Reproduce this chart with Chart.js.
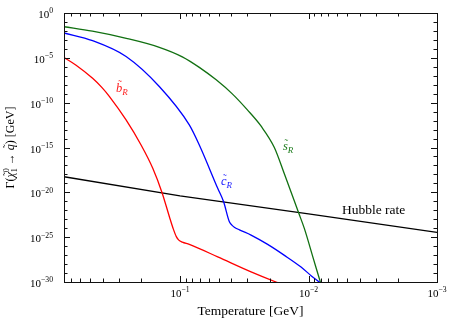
<!DOCTYPE html>
<html lang="en">
<head>
<meta charset="UTF-8">
<title>Squark decay rate vs temperature</title>
<style>
  body { margin: 0; background: #fff; }
  #wrap { width: 458px; height: 322px; }
</style>
</head>
<body>
<div id="wrap"><canvas id="rateChart" width="458" height="322"></canvas></div>
<script src="https://cdn.jsdelivr.net/npm/chart.js"></script>
<script>
// temperature in GeV, rate in GeV
const tempB = [0.8, 0.644, 0.479, 0.403, 0.354, 0.263, 0.201, 0.163, 0.138, 0.121, 0.1127, 0.1069, 0.1022, 0.096, 0.0847, 0.0509, 0.028, 0.0179, 0.0157];
const rateB = [1.1e-5, 1.5e-6, 5.2e-8, 4.5e-9, 4.8e-10, 1.2e-12, 1.9e-15, 4.8e-18, 9.1e-21, 1.9e-23, 7.9e-25, 1.15e-25, 4.7e-26, 2.8e-26, 1.55e-26, 6.3e-28, 1.35e-29, 1.0e-30, 5e-31];

const tempC = [0.8, 0.479, 0.263, 0.145, 0.0847, 0.0708, 0.0509, 0.0458, 0.0413, 0.0395, 0.0378, 0.0345, 0.028, 0.0208, 0.0154, 0.01143, 0.0095, 0.00824, 0.00767];
const rateC = [5.9e-3, 8.1e-4, 1.4e-5, 6.3e-9, 3.3e-13, 1.9e-15, 2.8e-20, 8.9e-22, 5.2e-24, 2.2e-24, 1.3e-24, 6.6e-25, 1.7e-25, 1.55e-26, 9.3e-28, 4.6e-29, 4.8e-30, 1.0e-30, 4.4e-31];

const tempS = [0.8, 0.481, 0.262, 0.145, 0.096, 0.0708, 0.0523, 0.0392, 0.0299, 0.0233, 0.01845, 0.0154, 0.01194, 0.01078, 0.00912, 0.00809, 0.00752];
const rateS = [2.95e-2, 9.3e-3, 1.5e-3, 1.5e-4, 1.3e-5, 8.7e-7, 3.5e-8, 9.5e-10, 1.55e-11, 2.2e-13, 1.0e-15, 1.1e-18, 5.2e-23, 9.5e-25, 3.1e-28, 1.0e-30, 3.2e-32];

const tempH = [0.8, 0.1, 0.01, 0.001];
const rateH = [5.5e-19, 4.0e-21, 4.0e-23, 3.5e-25];

// tick labels (powers of ten)
const xTickExps = [-1, -2, -3];
const yTickExps = [0, -5, -10, -15, -20, -25, -30];

const SERIF = '"Liberation Serif", "DejaVu Serif", serif';

function pts(xs, ys) {
    return xs.map((t, i) => ({ x: t, y: ys[i] }));
}

function fontOf(r) {
    return (r.it ? 'italic ' : '') + r.size + 'px ' + SERIF;
}

function runsWidth(ctx, runs) {
    let w = 0;
    for (const r of runs) {
        ctx.font = fontOf(r);
        r.w = ctx.measureText(r.t).width;
        if (r.sub) r.w = Math.max(r.w, ctx.measureText(r.sub).width);
        w += r.w;
    }
    return w;
}

// draws text pieces one after another (sub/superscripts, tildes)
function drawRuns(ctx, runs, x, y) {
    runsWidth(ctx, runs);
    let cx = x;
    ctx.textAlign = 'left';
    ctx.textBaseline = 'alphabetic';
    for (const r of runs) {
        ctx.font = fontOf(r);
        ctx.fillText(r.t, cx, y + (r.dy || 0));
        if (r.sub) ctx.fillText(r.sub, cx, y + r.subDy);
        if (r.tilde) {
            ctx.font = (r.size * 0.9) + 'px ' + SERIF;
            ctx.textAlign = 'center';
            ctx.fillText('\u02DC', cx + r.w / 2 + (r.it ? 1 : 0), y + r.tilde);
            ctx.textAlign = 'left';
        }
        cx += r.w;
    }
}

function powRuns(exp, size) {
    return [
        { t: '10', size: size },
        { t: exp === 0 ? '0' : '\u2212' + Math.abs(exp), size: size * 0.7, dy: -size * 0.42 }
    ];
}

const decor = {
    id: 'decor',
    afterDraw(chart) {
        const { ctx, chartArea: a, scales: { x, y } } = chart;
        ctx.save();
        ctx.strokeStyle = '#111';
        ctx.lineWidth = 1;
        const seg = (x1, y1, x2, y2) => {
            ctx.beginPath(); ctx.moveTo(x1, y1); ctx.lineTo(x2, y2); ctx.stroke();
        };

        // y ticks, one per decade, longer every 5
        for (let e = 0; e >= -30; e--) {
            const py = Math.round(y.getPixelForValue(Math.pow(10, e))) + 0.5;
            const len = e % 5 === 0 ? 6 : 3.5;
            seg(a.left, py, a.left + len, py);
            seg(a.right, py, a.right - len, py);
        }
        // x ticks
        for (let e = 0; e >= -3; e--) {
            for (let k = 1; k <= 9; k++) {
                const v = k * Math.pow(10, e);
                if (v > 0.8 || v < 0.001) continue;
                const px = Math.round(x.getPixelForValue(v)) + 0.5;
                const len = k === 1 ? 6 : 3.5;
                seg(px, a.bottom, px, a.bottom - len);
                seg(px, a.top, px, a.top + len);
            }
        }
        // frame
        ctx.strokeRect(Math.round(a.left) + 0.5, Math.round(a.top) + 0.5,
            Math.round(a.right - a.left), Math.round(a.bottom - a.top));

        ctx.fillStyle = '#000';
        // y tick labels
        yTickExps.forEach(e => {
            const runs = powRuns(e, 11);
            const w = runsWidth(ctx, runs);
            const py = y.getPixelForValue(Math.pow(10, e));
            drawRuns(ctx, runs, 53 - w, py + 5);
        });
        // x tick labels
        xTickExps.forEach(e => {
            const runs = powRuns(e, 11);
            const w = runsWidth(ctx, runs);
            const px = x.getPixelForValue(Math.pow(10, e));
            drawRuns(ctx, runs, px - w / 2, a.bottom + 15);
        });

        // axis titles
        ctx.font = '13.5px ' + SERIF;
        ctx.textAlign = 'center';
        ctx.fillText('Temperature [GeV]', (a.left + a.right) / 2, 315);

        const yTitle = [
            { t: '\u0393(', size: 12 },
            { t: '\u03C7', size: 12, it: true, tilde: -2.8 },
            { t: '0', size: 8, dy: -5, sub: '1', subDy: 3 },
            { t: ' \u2192 ', size: 12 },
            { t: 'q', size: 12, it: true, tilde: -2.8 },
            { t: ') [GeV]', size: 12 }
        ];
        const tw = runsWidth(ctx, yTitle);
        ctx.save();
        ctx.translate(14, (a.top + a.bottom) / 2);
        ctx.rotate(-Math.PI / 2);
        drawRuns(ctx, yTitle, -tw / 2, 0);
        ctx.restore();

        // curve labels
        const lbl = (ch, color, px, py, tl) => {
            ctx.fillStyle = color;
            drawRuns(ctx, [
                { t: ch, size: 12.5, it: true, tilde: tl },
                { t: 'R', size: 9, it: true, dy: 2.5 }
            ], px, py);
        };
        lbl('b', '#ff2020', 116, 92, -4.5);
        lbl('c', '#2020ff', 221, 185, -3);
        lbl('s', '#1a7a1a', 283, 150, -3);

        ctx.fillStyle = '#000';
        ctx.font = '13.5px ' + SERIF;
        ctx.textAlign = 'left';
        ctx.fillText('Hubble rate', 342, 214);
        ctx.restore();
    }
};

const lineDefaults = {
    borderWidth: 1.3,
    pointRadius: 0,
    fill: false,
    cubicInterpolationMode: 'monotone'
};

new Chart(document.getElementById('rateChart'), {
    type: 'line',
    data: {
        datasets: [
            Object.assign({ label: 'b_R', data: pts(tempB, rateB), borderColor: '#ff0000' }, lineDefaults),
            Object.assign({ label: 'c_R', data: pts(tempC, rateC), borderColor: '#0000ff' }, lineDefaults),
            Object.assign({ label: 's_R', data: pts(tempS, rateS), borderColor: '#117011' }, lineDefaults),
            Object.assign({ label: 'Hubble rate', data: pts(tempH, rateH), borderColor: '#000000' }, lineDefaults, { cubicInterpolationMode: 'default', tension: 0 })
        ]
    },
    options: {
        responsive: false,
        animation: false,
        devicePixelRatio: 1,
        layout: { padding: { left: 64, right: 21, top: 13, bottom: 40 } },
        plugins: { legend: { display: false }, tooltip: { enabled: false } },
        scales: {
            x: { type: 'logarithmic', display: false, min: 0.001, max: 0.8, reverse: true },
            y: { type: 'logarithmic', display: false, min: 1e-30, max: 1 }
        }
    },
    plugins: [decor]
});
</script>
</body>
</html>
